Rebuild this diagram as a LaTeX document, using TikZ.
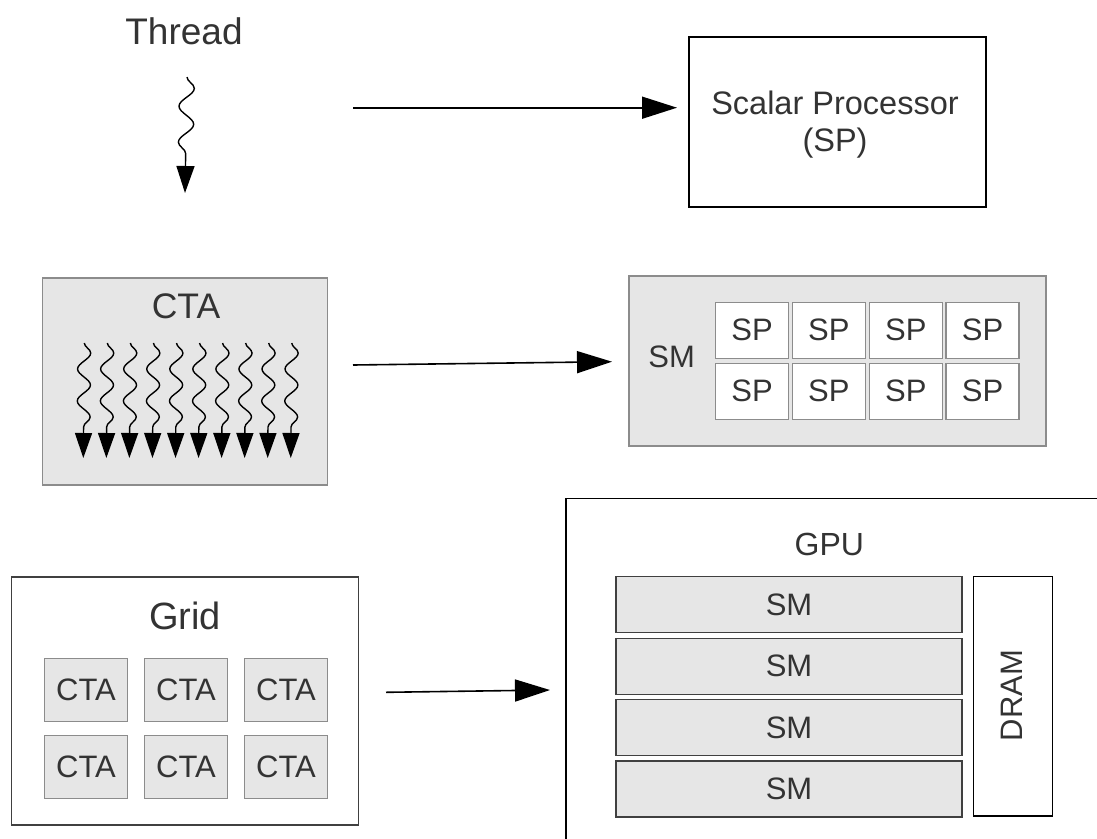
\documentclass[tikz,border=0pt]{standalone}
\usepackage{fontspec}
\setmainfont{Liberation Sans}
\usetikzlibrary{arrows.meta,decorations.pathmorphing}

\definecolor{boxfill}{HTML}{E6E6E6}
\definecolor{boxline}{HTML}{8C8C8C}
\definecolor{darkline}{HTML}{404040}
\definecolor{ink}{HTML}{333333}

\tikzset{
  lbl/.style={text=ink, inner sep=0pt},
  txt/.style={font=\fontsize{31}{36}\selectfont},
  frame/.style={draw=black, line width=1.2pt, fill=white},
  unitbox/.style={draw=boxline, fill=boxfill, line width=1.2pt, inner sep=0pt, text=ink, txt},
  spbox/.style={draw=boxline, fill=white, line width=1.2pt, inner sep=0pt, text=ink, txt,
                minimum width=73pt, minimum height=56pt},
  ctabox/.style={unitbox, minimum width=83pt, minimum height=63pt},
  smbar/.style={draw=darkline, fill=boxfill, line width=1.2pt, inner sep=0pt, text=ink, txt,
                minimum width=346pt, minimum height=56pt},
  flow/.style={line width=1.6pt, -{Triangle[length=35pt,width=22pt]}},
  squiggle/.style={line width=1.4pt, decorate,
                   decoration={snake, segment length=#1, amplitude=6.5pt, post length=31pt},
                   -{Triangle[length=25pt,width=17pt]}},
}

\begin{document}
\begin{tikzpicture}[x=1pt,y=-1pt]
\useasboundingbox (0,0) rectangle (1097,838);
\fill[white] (0,0) rectangle (1097,838);

% ---- Thread -> Scalar Processor ----
\node[lbl, anchor=base, font=\fontsize{37}{40}\selectfont] (thread) at (184,44.3) {Thread};
\coordinate (t0) at (187,77);
\coordinate (t1) at (185,193);
\draw[squiggle=36pt, decoration={amplitude=7.5pt, post length=36pt},
      -{Triangle[length=27pt,width=18pt]}] (t0) -- (t1);

\node[frame, minimum width=297pt, minimum height=170pt, inner sep=0pt] (sp) at (837.5,122) {};
\node[lbl, align=center, font=\fontsize{32.5}{37}\selectfont] (splabel) at (835,125) {Scalar Processor\\(SP)};

\coordinate (a1s) at (353,107.7);
\coordinate (a1e) at (677,107.7);
\draw[flow] (a1s) -- (a1e);

% ---- CTA -> SM ----
\node[draw=boxline, fill=boxfill, line width=1.2pt, minimum width=285.5pt,
      minimum height=207pt, inner sep=0pt] (cta) at (185,381.5) {};
\node[lbl, anchor=base, font=\fontsize{35.5}{40}\selectfont] (ctalabel) at (186,318.3) {CTA};
\foreach \i in {0,...,9} {
  \coordinate (w\i a) at ({84.3+23.05*\i},343);
  \coordinate (w\i b) at ({83.3+23.05*\i},458);
  \draw[squiggle=32pt] (w\i a) -- (w\i b);
}

\coordinate (a2s) at (353,365);
\coordinate (a2e) at (612,361.7);
\draw[flow] (a2s) -- (a2e);

\node[draw=boxline, fill=boxfill, line width=1.2pt, minimum width=417pt,
      minimum height=170pt, inner sep=0pt] (sm) at (837.5,361) {};
\node[lbl, txt] (smlabel) at (671.7,357.3) {SM};
\foreach \c/\x in {1/752,2/828.8,3/905.8,4/982.5} {
  \node[spbox] (spA\c) at (\x,330.3) {SP};
  \node[spbox] (spB\c) at (\x,391.3) {SP};
}

% ---- Grid -> GPU ----
\node[draw=darkline, fill=white, line width=1.2pt, minimum width=346.5pt,
      minimum height=248pt, inner sep=0pt] (grid) at (185,701) {};
\node[lbl, anchor=base, font=\fontsize{38}{42}\selectfont] (gridlabel) at (185,629.3) {Grid};
\foreach \c/\x in {1/86,2/186,3/286} {
  \node[ctabox] (cA\c) at (\x,689.7) {CTA};
  \node[ctabox] (cB\c) at (\x,766.7) {CTA};
}

\coordinate (a3s) at (386,692.3);
\coordinate (a3e) at (550,690);
\draw[flow] (a3s) -- (a3e);

\begin{scope}
  \clip (0,0) rectangle (1097,838);
  \draw[frame] (566,498.3) rectangle (1120,860);
\end{scope}
\coordinate (gpucorner) at (566,498.3);
\node[lbl, anchor=base, font=\fontsize{32}{36}\selectfont] (gpulabel) at (829.3,555) {GPU};
\foreach \r/\y in {1/604.7,2/666.2,3/727.5,4/789} {
  \node[smbar] (bar\r) at (789,\y) {SM};
}
\node[draw=black, fill=white, line width=1.2pt, minimum width=79.4pt,
      minimum height=239.3pt, inner sep=0pt] (dram) at (1013,696.3) {};
\node[lbl, txt, rotate=90] (dramlabel) at (1012,695.5) {DRAM};
\end{tikzpicture}
\end{document}
